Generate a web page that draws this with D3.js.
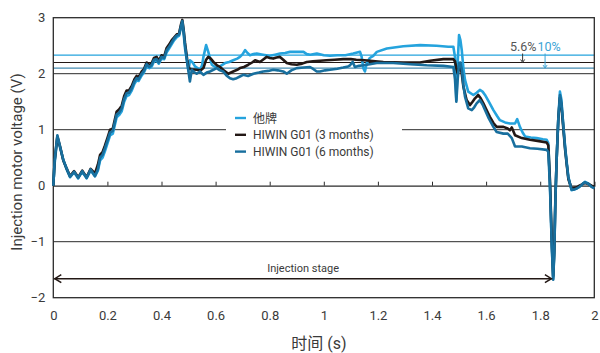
<!DOCTYPE html>
<html><head><meta charset="utf-8">
<script src="https://cdn.jsdelivr.net/npm/d3@7"></script>
<style>body{margin:0;background:#fff}svg{display:block;font-family:Roboto,"Noto Sans CJK SC",sans-serif}</style>
</head><body><svg id="c" width="600" height="353"></svg>
<script>
const xTicks = [0,0.2,0.4,0.6,0.8,1,1.2,1.4,1.6,1.8,2];
const yTicks = [3,2,1,0,-1,-2];
const seriesNames = ["他牌","HIWIN G01 (3 months)","HIWIN G01 (6 months)"];
const seriesColors = ["#25a3dd","#231815","#186f9e"];
const refLevels = [2.33,2.2,2.1];
const pctLabels = ["5.6%","10%"];
const stageEnd = 1.847, stageLevel = -1.66;

const otherBrand = [[0,0],[0.005,0.4],[0.015,0.86],[0.025,0.68],[0.037,0.46],[0.05,0.28],[0.062,0.15],[0.077,0.24],[0.092,0.13],[0.107,0.25],[0.123,0.13],[0.138,0.27],[0.154,0.17],[0.165,0.27],[0.173,0.45],[0.182,0.5],[0.191,0.62],[0.2,0.75],[0.21,0.9],[0.22,0.93],[0.234,1.22],[0.243,1.26],[0.253,1.33],[0.262,1.5],[0.271,1.6],[0.28,1.62],[0.29,1.7],[0.3,1.82],[0.308,1.88],[0.315,1.87],[0.327,1.97],[0.335,2.02],[0.345,2.13],[0.355,2.1],[0.364,2.13],[0.372,2.22],[0.382,2.23],[0.39,2.18],[0.4,2.27],[0.41,2.26],[0.419,2.38],[0.428,2.45],[0.438,2.53],[0.447,2.6],[0.456,2.65],[0.465,2.68],[0.472,2.82],[0.477,2.9],[0.482,2.7],[0.487,2.45],[0.495,2.2],[0.5,2.05],[0.505,2.24],[0.515,2.2],[0.524,2.13],[0.533,2.1],[0.542,2.07],[0.55,2.15],[0.555,2.3],[0.565,2.51],[0.573,2.39],[0.586,2.16],[0.598,2.12],[0.61,2.1],[0.622,2.15],[0.635,2.19],[0.65,2.21],[0.665,2.24],[0.68,2.27],[0.69,2.3],[0.7,2.35],[0.709,2.42],[0.718,2.37],[0.727,2.33],[0.74,2.35],[0.752,2.36],[0.775,2.34],[0.8,2.32],[0.82,2.34],[0.838,2.36],[0.857,2.37],[0.875,2.39],[0.9,2.39],[0.925,2.39],[0.937,2.35],[0.95,2.34],[0.974,2.36],[1.0,2.33],[1.023,2.32],[1.05,2.33],[1.08,2.33],[1.109,2.36],[1.134,2.39],[1.14,2.3],[1.146,2.1],[1.152,2.04],[1.159,2.19],[1.17,2.28],[1.183,2.32],[1.196,2.39],[1.233,2.45],[1.294,2.49],[1.356,2.51],[1.417,2.5],[1.46,2.48],[1.479,2.48],[1.485,2.3],[1.49,1.53],[1.495,2.2],[1.5,2.69],[1.505,2.6],[1.51,2.42],[1.516,2.1],[1.522,1.89],[1.534,1.68],[1.553,1.62],[1.565,1.66],[1.577,1.71],[1.587,1.68],[1.596,1.62],[1.61,1.5],[1.627,1.35],[1.64,1.25],[1.651,1.17],[1.67,1.13],[1.688,1.11],[1.707,1.11],[1.715,1.19],[1.725,1.05],[1.735,0.95],[1.744,0.88],[1.765,0.86],[1.787,0.85],[1.81,0.83],[1.824,0.82],[1.83,0.76],[1.836,0.05],[1.843,-1.09],[1.848,-1.66],[1.852,-1.2],[1.856,-0.3],[1.861,0.5],[1.867,1.2],[1.873,1.68],[1.878,1.55],[1.885,1.1],[1.892,0.7],[1.898,0.42],[1.904,0.16],[1.916,-0.08],[1.935,-0.05],[1.953,0.01],[1.966,0.07],[1.978,0.04],[1.99,-0.02],[2.0,-0.03]];

const hiwin3 = [[0,0],[0.005,0.45],[0.015,0.88],[0.025,0.7],[0.037,0.45],[0.05,0.3],[0.062,0.17],[0.077,0.26],[0.092,0.15],[0.107,0.27],[0.123,0.15],[0.138,0.3],[0.154,0.22],[0.165,0.38],[0.173,0.55],[0.182,0.6],[0.191,0.72],[0.2,0.85],[0.21,1.0],[0.22,1.02],[0.234,1.32],[0.243,1.36],[0.253,1.43],[0.262,1.6],[0.271,1.7],[0.28,1.7],[0.29,1.78],[0.3,1.9],[0.308,1.96],[0.315,1.93],[0.327,2.04],[0.335,2.08],[0.345,2.2],[0.355,2.15],[0.364,2.19],[0.372,2.28],[0.382,2.3],[0.39,2.23],[0.4,2.33],[0.41,2.31],[0.419,2.46],[0.428,2.52],[0.438,2.6],[0.447,2.65],[0.456,2.7],[0.465,2.72],[0.472,2.88],[0.477,2.96],[0.482,2.78],[0.487,2.55],[0.495,2.25],[0.5,2.1],[0.51,2.08],[0.53,2.07],[0.545,2.06],[0.555,2.1],[0.565,2.25],[0.573,2.3],[0.582,2.27],[0.592,2.21],[0.605,2.15],[0.616,2.12],[0.63,2.06],[0.647,2.0],[0.665,2.04],[0.68,2.07],[0.69,2.1],[0.705,2.12],[0.721,2.16],[0.735,2.2],[0.746,2.24],[0.764,2.21],[0.775,2.25],[0.789,2.3],[0.8,2.28],[0.813,2.27],[0.825,2.29],[0.838,2.3],[0.85,2.25],[0.863,2.19],[0.88,2.17],[0.9,2.16],[0.92,2.18],[0.937,2.21],[0.96,2.22],[0.986,2.23],[1.01,2.24],[1.04,2.25],[1.072,2.26],[1.1,2.26],[1.12,2.25],[1.15,2.24],[1.171,2.23],[1.22,2.21],[1.294,2.2],[1.356,2.2],[1.393,2.23],[1.442,2.26],[1.479,2.26],[1.485,2.22],[1.49,2.1],[1.495,2.0],[1.5,2.1],[1.505,2.15],[1.51,2.0],[1.516,1.77],[1.528,1.53],[1.54,1.44],[1.55,1.5],[1.559,1.56],[1.571,1.62],[1.58,1.56],[1.59,1.47],[1.6,1.37],[1.614,1.23],[1.627,1.12],[1.639,1.05],[1.664,1.05],[1.68,1.02],[1.688,0.99],[1.695,1.04],[1.707,0.9],[1.732,0.85],[1.762,0.82],[1.79,0.8],[1.824,0.77],[1.83,0.72],[1.836,0.1],[1.843,-1.0],[1.848,-1.62],[1.852,-1.15],[1.856,-0.25],[1.861,0.5],[1.867,1.2],[1.873,1.57],[1.878,1.45],[1.885,1.05],[1.892,0.65],[1.898,0.38],[1.904,0.12],[1.916,-0.05],[1.925,-0.04],[1.935,-0.03],[1.945,0.0],[1.953,0.02],[1.966,0.05],[1.978,0.03],[1.99,0.0],[2.0,-0.02]];

const hiwin6 = [[0,0],[0.005,0.45],[0.015,0.9],[0.025,0.7],[0.037,0.46],[0.05,0.3],[0.062,0.16],[0.077,0.25],[0.092,0.14],[0.107,0.26],[0.123,0.14],[0.138,0.29],[0.154,0.17],[0.165,0.3],[0.173,0.5],[0.182,0.55],[0.191,0.67],[0.2,0.8],[0.21,0.95],[0.22,0.98],[0.234,1.27],[0.243,1.3],[0.253,1.38],[0.262,1.55],[0.271,1.65],[0.28,1.66],[0.29,1.74],[0.3,1.86],[0.308,1.92],[0.315,1.9],[0.327,2.0],[0.335,2.05],[0.345,2.17],[0.355,2.12],[0.364,2.16],[0.372,2.25],[0.382,2.26],[0.39,2.2],[0.4,2.3],[0.41,2.28],[0.419,2.42],[0.428,2.48],[0.438,2.56],[0.447,2.63],[0.456,2.68],[0.465,2.7],[0.472,2.85],[0.477,2.94],[0.482,2.75],[0.487,2.5],[0.495,2.2],[0.505,1.86],[0.512,2.07],[0.52,2.03],[0.53,2.0],[0.542,2.04],[0.555,1.98],[0.567,2.02],[0.579,2.04],[0.592,2.07],[0.604,2.1],[0.616,2.06],[0.628,2.04],[0.64,1.97],[0.653,1.92],[0.665,1.9],[0.678,1.92],[0.69,1.95],[0.702,1.98],[0.72,1.96],[0.74,2.0],[0.76,2.02],[0.776,2.04],[0.795,2.05],[0.813,2.07],[0.83,2.06],[0.85,2.04],[0.863,2.0],[0.88,2.06],[0.9,2.1],[0.925,2.11],[0.949,2.12],[0.962,2.08],[0.974,2.04],[0.986,2.04],[1.005,2.06],[1.023,2.07],[1.05,2.09],[1.072,2.11],[1.09,2.13],[1.097,2.15],[1.107,2.21],[1.115,2.12],[1.13,2.14],[1.146,2.15],[1.17,2.17],[1.196,2.19],[1.257,2.19],[1.319,2.17],[1.38,2.15],[1.442,2.14],[1.479,2.12],[1.485,1.9],[1.49,1.5],[1.495,1.9],[1.5,2.19],[1.505,2.2],[1.511,2.05],[1.516,1.8],[1.522,1.59],[1.534,1.38],[1.547,1.35],[1.556,1.4],[1.565,1.47],[1.577,1.53],[1.587,1.45],[1.596,1.35],[1.61,1.2],[1.627,1.05],[1.639,0.96],[1.664,0.93],[1.68,0.93],[1.695,0.85],[1.707,0.7],[1.732,0.7],[1.762,0.67],[1.79,0.66],[1.824,0.64],[1.83,0.6],[1.836,0.0],[1.843,-1.1],[1.848,-1.68],[1.852,-1.2],[1.856,-0.3],[1.861,0.5],[1.867,1.2],[1.873,1.62],[1.878,1.5],[1.885,1.1],[1.892,0.68],[1.898,0.4],[1.904,0.15],[1.916,-0.07],[1.925,-0.07],[1.935,-0.05],[1.945,-0.02],[1.953,0.01],[1.96,0.05],[1.966,0.06],[1.978,0.03],[1.99,-0.02],[2.0,-0.05]];

const allSeries = [otherBrand, hiwin3, hiwin6];

const svg = d3.select("#c");
const x = d3.scaleLinear().domain([0,2]).range([53.3,594.3]);
const y = d3.scaleLinear().domain([-2,3]).range([297.7,17.7]);
const ink = "#2b2b2b", txt = "#3a3a3a";

svg.append("g").selectAll("line").data([2,1,-1]).join("line")
  .attr("x1",x(0)).attr("x2",x(2)).attr("y1",d=>y(d)).attr("y2",d=>y(d))
  .attr("stroke",ink).attr("stroke-width",1);

svg.append("g").selectAll("line").data(refLevels).join("line")
  .attr("x1",x(0)).attr("x2",x(2)).attr("y1",d=>y(d)).attr("y2",d=>y(d))
  .attr("stroke",(d,i)=>seriesColors[i]).attr("stroke-width",(d,i)=>i==0?1.3:1);

svg.append("rect").attr("x",x(0)).attr("y",y(3)).attr("width",x(2)-x(0)).attr("height",y(-2)-y(3))
  .attr("fill","none").attr("stroke",ink).attr("stroke-width",1.3);

const xa = svg.append("g").attr("transform",`translate(0,${y(0)})`)
  .call(d3.axisTop(x).tickValues(xTicks.slice(1,-1)).tickSize(4).tickFormat(""));
xa.select(".domain").attr("stroke",ink).attr("stroke-width",1.3);
xa.selectAll(".tick line").attr("stroke",ink).attr("stroke-width",1);

const xb = svg.append("g").attr("transform",`translate(0,${y(-2)})`)
  .call(d3.axisBottom(x).tickValues(xTicks).tickSize(0).tickPadding(13).tickFormat(d3.format("~g")));
xb.select(".domain").remove();
xb.selectAll("text").attr("font-size",13).attr("fill",txt).attr("font-family","Roboto");

const ya = svg.append("g").attr("transform",`translate(${x(0)},0)`)
  .call(d3.axisLeft(y).tickValues(yTicks).tickSize(0).tickPadding(8).tickFormat(d3.format("~g")));
ya.select(".domain").remove();
ya.selectAll("text").attr("font-size",13).attr("fill",txt).attr("font-family","Roboto");

svg.append("rect").attr("x",226).attr("y",108).attr("width",176).attr("height",52).attr("fill","#fff");

const line = d3.line().x(d=>x(d[0])).y(d=>y(d[1])).curve(d3.curveLinear);
svg.append("g").selectAll("path").data(allSeries).join("path")
  .attr("d",line).attr("fill","none").attr("stroke",(d,i)=>seriesColors[i])
  .attr("stroke-width",2.6).attr("stroke-linejoin","round");

const lg = svg.append("g").attr("transform","translate(235,118)");
seriesNames.forEach((n,i)=>{
  const yy = i*16.8;
  lg.append("line").attr("x1",0).attr("x2",11).attr("y1",yy).attr("y2",yy)
    .attr("stroke",seriesColors[i]).attr("stroke-width",2.4);
  lg.append("text").attr("x",18).attr("y",yy+4.5).attr("font-size",12).attr("fill",txt).text(n);
});

// percentage annotations
const pt = svg.append("text").attr("x",510).attr("y",51).attr("font-size",12.5);
pt.append("tspan").attr("fill","#555").text(pctLabels[0]);
pt.append("tspan").attr("fill","#3aa3d6").attr("dx",1).text(pctLabels[1]);
const arrow = (t, v0, v1, col) => {
  svg.append("line").attr("x1",x(t)).attr("x2",x(t)).attr("y1",y(v0)).attr("y2",y(v1)-1)
    .attr("stroke",col).attr("stroke-width",1);
  svg.append("path").attr("d",`M${x(t)-2},${y(v1)-3}L${x(t)},${y(v1)}L${x(t)+2},${y(v1)-3}`)
    .attr("fill","none").attr("stroke",col).attr("stroke-width",1);
};
arrow(1.735, 2.36, refLevels[1], "#333");
arrow(1.818, 2.36, refLevels[2], "#3aa3d6");

const ys = y(stageLevel);
svg.append("line").attr("x1",x(0)+1).attr("x2",x(stageEnd)-1).attr("y1",ys).attr("y2",ys)
  .attr("stroke","#231815").attr("stroke-width",1.5);
svg.append("path").attr("d",`M${x(0)+8},${ys-4}L${x(0)+1.5},${ys}L${x(0)+8},${ys+4}`)
  .attr("fill","none").attr("stroke","#231815").attr("stroke-width",1.5);
svg.append("path").attr("d",`M${x(stageEnd)-8},${ys-4}L${x(stageEnd)-1.5},${ys}L${x(stageEnd)-8},${ys+4}`)
  .attr("fill","none").attr("stroke","#231815").attr("stroke-width",1.5);
svg.append("text").attr("x",x(stageEnd/2)).attr("y",ys-7).attr("text-anchor","middle")
  .attr("font-size",11).attr("fill",txt).text("Injection stage");

svg.append("text").attr("transform",`translate(22,${162}) rotate(-90)`).attr("text-anchor","middle")
  .attr("font-size",15).attr("fill",txt).text("Injection motor voltage (V)");
svg.append("text").attr("x",319).attr("y",349).attr("text-anchor","middle")
  .attr("font-size",16).attr("fill",txt).text("时间 (s)");
</script></body></html>
